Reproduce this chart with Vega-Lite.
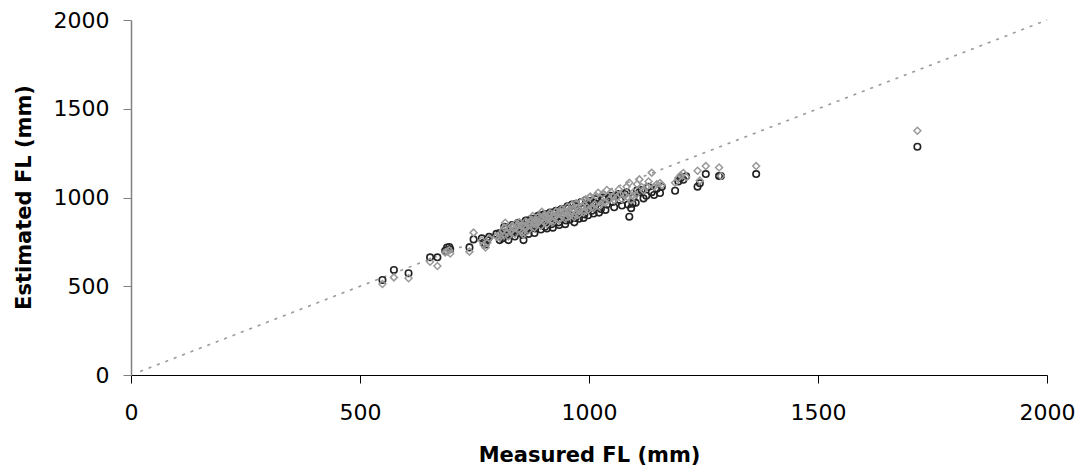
{
  "$schema": "https://vega.github.io/schema/vega-lite/v6.json",
  "width": 916,
  "height": 355,
  "autosize": {"type": "none"},
  "padding": {"left": 131, "top": 20, "right": 35, "bottom": 95},
  "config": {
    "view": {"stroke": null},
    "font": "DejaVu Sans"
  },
  "datasets": {
    "ref": [{"m": 20, "a": 20}, {"m": 2000, "a": 2000}],
    "fish": [
      {"m": 549, "a": 535, "b": 513},
      {"m": 574, "a": 592, "b": 550},
      {"m": 606, "a": 573, "b": 545},
      {"m": 653, "a": 663, "b": 638},
      {"m": 669, "a": 663, "b": 614},
      {"m": 686, "a": 700, "b": 690},
      {"m": 690, "a": 718, "b": 696},
      {"m": 695, "a": 721, "b": 703},
      {"m": 697, "a": 708, "b": 684},
      {"m": 739, "a": 719, "b": 695},
      {"m": 748, "a": 764, "b": 802},
      {"m": 766, "a": 770, "b": 758},
      {"m": 770, "a": 745, "b": 732},
      {"m": 774, "a": 735, "b": 718},
      {"m": 778, "a": 760, "b": 745},
      {"m": 782, "a": 778, "b": 770},
      {"m": 798, "a": 795, "b": 780},
      {"m": 805, "a": 800, "b": 790},
      {"m": 805, "a": 760, "b": 775},
      {"m": 812, "a": 770, "b": 815},
      {"m": 815, "a": 835, "b": 830},
      {"m": 817, "a": 820, "b": 858},
      {"m": 822, "a": 790, "b": 800},
      {"m": 824, "a": 760, "b": 780},
      {"m": 826, "a": 815, "b": 825},
      {"m": 830, "a": 800, "b": 810},
      {"m": 832, "a": 845, "b": 840},
      {"m": 834, "a": 835, "b": 830},
      {"m": 838, "a": 780, "b": 795},
      {"m": 840, "a": 805, "b": 855},
      {"m": 842, "a": 820, "b": 840},
      {"m": 846, "a": 858, "b": 845},
      {"m": 848, "a": 850, "b": 860},
      {"m": 850, "a": 800, "b": 815},
      {"m": 853, "a": 830, "b": 840},
      {"m": 855, "a": 790, "b": 805},
      {"m": 857, "a": 760, "b": 790},
      {"m": 860, "a": 845, "b": 838},
      {"m": 862, "a": 870, "b": 865},
      {"m": 863, "a": 815, "b": 830},
      {"m": 866, "a": 870, "b": 855},
      {"m": 868, "a": 795, "b": 815},
      {"m": 869, "a": 830, "b": 845},
      {"m": 872, "a": 850, "b": 860},
      {"m": 875, "a": 880, "b": 875},
      {"m": 877, "a": 840, "b": 896},
      {"m": 880, "a": 870, "b": 862},
      {"m": 881, "a": 800, "b": 830},
      {"m": 883, "a": 825, "b": 850},
      {"m": 886, "a": 880, "b": 870},
      {"m": 888, "a": 895, "b": 890},
      {"m": 889, "a": 845, "b": 858},
      {"m": 892, "a": 900, "b": 880},
      {"m": 895, "a": 820, "b": 840},
      {"m": 897, "a": 860, "b": 920},
      {"m": 900, "a": 875, "b": 885},
      {"m": 902, "a": 905, "b": 900},
      {"m": 904, "a": 835, "b": 862},
      {"m": 907, "a": 905, "b": 890},
      {"m": 908, "a": 825, "b": 850},
      {"m": 910, "a": 870, "b": 880},
      {"m": 914, "a": 885, "b": 898},
      {"m": 915, "a": 915, "b": 912},
      {"m": 918, "a": 850, "b": 870},
      {"m": 921, "a": 830, "b": 860},
      {"m": 922, "a": 915, "b": 900},
      {"m": 926, "a": 880, "b": 892},
      {"m": 928, "a": 925, "b": 922},
      {"m": 930, "a": 895, "b": 905},
      {"m": 934, "a": 860, "b": 878},
      {"m": 935, "a": 845, "b": 875},
      {"m": 938, "a": 930, "b": 915},
      {"m": 940, "a": 935, "b": 935},
      {"m": 942, "a": 890, "b": 902},
      {"m": 946, "a": 905, "b": 918},
      {"m": 948, "a": 850, "b": 880},
      {"m": 950, "a": 870, "b": 890},
      {"m": 953, "a": 950, "b": 948},
      {"m": 955, "a": 940, "b": 925},
      {"m": 958, "a": 875, "b": 895},
      {"m": 960, "a": 900, "b": 912},
      {"m": 963, "a": 960, "b": 958},
      {"m": 965, "a": 920, "b": 935},
      {"m": 968, "a": 860, "b": 890},
      {"m": 970, "a": 885, "b": 905},
      {"m": 972, "a": 965, "b": 968},
      {"m": 975, "a": 950, "b": 940},
      {"m": 978, "a": 880, "b": 905},
      {"m": 980, "a": 915, "b": 928},
      {"m": 983, "a": 975, "b": 975},
      {"m": 985, "a": 935, "b": 950},
      {"m": 988, "a": 885, "b": 915},
      {"m": 990, "a": 905, "b": 925},
      {"m": 993, "a": 985, "b": 990},
      {"m": 995, "a": 960, "b": 948},
      {"m": 998, "a": 900, "b": 930},
      {"m": 1001, "a": 940, "b": 1000},
      {"m": 1003, "a": 980, "b": 1005},
      {"m": 1006, "a": 925, "b": 945},
      {"m": 1010, "a": 910, "b": 940},
      {"m": 1012, "a": 970, "b": 960},
      {"m": 1015, "a": 990, "b": 1010},
      {"m": 1020, "a": 950, "b": 1027},
      {"m": 1022, "a": 915, "b": 950},
      {"m": 1026, "a": 935, "b": 965},
      {"m": 1030, "a": 1000, "b": 1020},
      {"m": 1032, "a": 990, "b": 975},
      {"m": 1036, "a": 930, "b": 970},
      {"m": 1039, "a": 960, "b": 1042},
      {"m": 1045, "a": 1000, "b": 990},
      {"m": 1048, "a": 1010, "b": 1030},
      {"m": 1052, "a": 975, "b": 1005},
      {"m": 1055, "a": 945, "b": 985},
      {"m": 1060, "a": 1010, "b": 1000},
      {"m": 1065, "a": 1020, "b": 1045},
      {"m": 1068, "a": 985, "b": 1020},
      {"m": 1072, "a": 955, "b": 990},
      {"m": 1078, "a": 1020, "b": 1010},
      {"m": 1082, "a": 1030, "b": 1060},
      {"m": 1085, "a": 960, "b": 1000},
      {"m": 1088, "a": 892, "b": 1083},
      {"m": 1092, "a": 940, "b": 985},
      {"m": 1095, "a": 965, "b": 1010},
      {"m": 1097, "a": 1000, "b": 1030},
      {"m": 1102, "a": 970, "b": 1015},
      {"m": 1105, "a": 1040, "b": 1075},
      {"m": 1110, "a": 1030, "b": 1102},
      {"m": 1115, "a": 1042, "b": 1059},
      {"m": 1119, "a": 995, "b": 1040},
      {"m": 1125, "a": 1010, "b": 1060},
      {"m": 1130, "a": 1060, "b": 1090},
      {"m": 1137, "a": 1030, "b": 1140},
      {"m": 1142, "a": 1014, "b": 1060},
      {"m": 1148, "a": 1050, "b": 1075},
      {"m": 1155, "a": 1025, "b": 1081},
      {"m": 1159, "a": 1060, "b": 1070},
      {"m": 1188, "a": 1038, "b": 1083},
      {"m": 1195, "a": 1090, "b": 1110},
      {"m": 1200, "a": 1110, "b": 1125},
      {"m": 1206, "a": 1100, "b": 1138},
      {"m": 1212, "a": 1120, "b": 1115},
      {"m": 1237, "a": 1061, "b": 1151},
      {"m": 1242, "a": 1080, "b": 1095},
      {"m": 1255, "a": 1132, "b": 1177},
      {"m": 1284, "a": 1121, "b": 1169},
      {"m": 1288, "a": 1121, "b": 1121},
      {"m": 1365, "a": 1132, "b": 1177},
      {"m": 1717, "a": 1286, "b": 1376}
    ]
  },
  "encoding": {
    "x": {
      "field": "m", "type": "quantitative", "title": "Measured FL (mm)",
      "scale": {"domain": [0, 2000], "nice": false},
      "axis": {"values": [0, 500, 1000, 1500, 2000], "format": "d", "domainColor": "#000", "tickColor": "#000", "tickSize": 8, "labelFontSize": 22, "labelPadding": 19, "labelColor": "#000", "labelFont": "DejaVu Sans", "titleFont": "DejaVu Sans", "titleFontSize": 21, "titleFontWeight": "bold", "titleColor": "#000", "grid": false, "titleBaseline": "alphabetic", "titleY": 86, "labelFlush": false}
    }
  },
  "layer": [
    {
      "data": {"name": "ref"},
      "mark": {"type": "line", "color": "#999999", "strokeWidth": 1.6, "strokeDash": [3, 6]},
      "encoding": {
        "y": {"field": "a", "type": "quantitative", "title": "Estimated FL (mm)", "scale": {"domain": [0, 2000], "nice": false},
          "axis": {"values": [0, 500, 1000, 1500, 2000], "format": "d", "domainColor": "#808080", "tickColor": "#808080", "tickSize": 8, "labelFontSize": 22, "labelPadding": 14, "labelColor": "#000", "labelFont": "DejaVu Sans", "titleFont": "DejaVu Sans", "titleFontSize": 21, "titleFontWeight": "bold", "titleColor": "#000", "grid": false, "titleBaseline": "alphabetic", "titleX": -101, "titleY": 177, "labelFlush": false, "domainWidth": 1.5}}
      }
    },
    {
      "data": {"name": "fish"},
      "mark": {"type": "point", "shape": "circle", "filled": false, "color": "#222222", "strokeWidth": 1.6, "size": 42, "opacity": 1},
      "encoding": {
        "y": {"field": "a", "type": "quantitative", "title": "Estimated FL (mm)"}
      }
    },
    {
      "data": {"name": "fish"},
      "mark": {"type": "point", "shape": "diamond", "filled": false, "color": "#999999", "strokeWidth": 1.5, "size": 48, "opacity": 1},
      "encoding": {
        "y": {"field": "b", "type": "quantitative", "title": "Estimated FL (mm)"}
      }
    }
  ]
}
